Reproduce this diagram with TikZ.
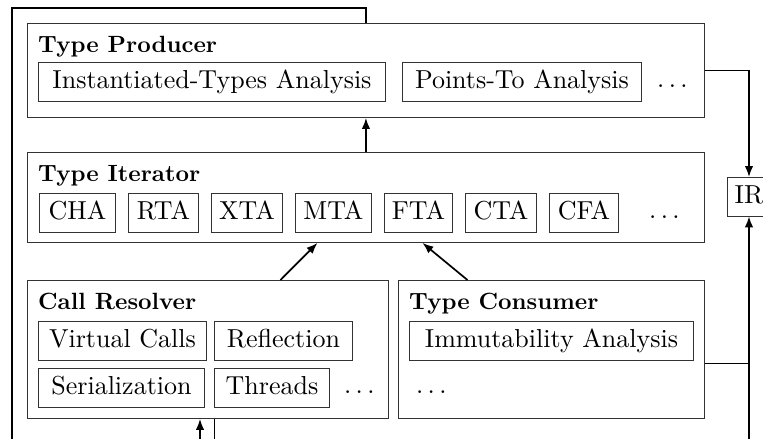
\documentclass[tikz,border=0pt]{standalone}
\usepackage{fontspec}
\setmainfont{lmroman10-regular}[Extension=.otf, BoldFont=lmroman10-bold]
\usetikzlibrary{arrows.meta}
\newcommand\itemfont{\fontsize{26}{30}\selectfont}
\newcommand\titlefont{\fontsize{23.5}{28}\selectfont\bfseries}
\tikzset{
  group/.style={draw=black!80, line width=0.9pt, inner sep=0pt, anchor=north west},
  item/.style={draw=black!80, line width=0.9pt, anchor=north west, inner sep=0pt,
    minimum height=38.5pt, text height=19pt, text depth=6pt, font=\itemfont},
  title/.style={anchor=base west, inner sep=0pt, font=\titlefont},
  more/.style={anchor=base west, inner sep=0pt, font=\itemfont},
  link/.style={line width=1.7pt},
  flow/.style={link, -{Latex[length=11pt,width=8.5pt]}},
}
\begin{document}
\begin{tikzpicture}[x=1pt,y=-1pt]
\useasboundingbox (0,0) rectangle (763,439);
\fill[white] (0,0) rectangle (763,439);
\clip (0,0) rectangle (763,439);

% Type Producer
\node[group, minimum width=677pt, minimum height=94pt] (prod) at (27,23) {};
\node[title] (prodT) at (38,52) {Type Producer};
\node[item, minimum width=347pt] (inst) at (38,62) {Instantiated-Types Analysis};
\node[item, minimum width=239pt] (pts) at (402,62) {Points-To Analysis};
\node[more] (prodM) at (657,87.75) {.\,.\,.};

% Type Iterator
\node[group, minimum width=677pt, minimum height=90pt] (iter) at (27,152) {};
\node[title] (iterT) at (38,181) {Type Iterator};
\node[item, minimum width=76pt] (cha) at (39,193) {CHA};
\node[item, minimum width=70pt] (rta) at (128,193) {RTA};
\node[item, minimum width=71pt] (xta) at (211,193) {XTA};
\node[item, minimum width=76pt] (mta) at (295,193) {MTA};
\node[item, minimum width=68pt] (fta) at (384,193) {FTA};
\node[item, minimum width=71pt] (cta) at (465,193) {CTA};
\node[item, minimum width=69pt] (cfa) at (549,193) {CFA};
\node[more] (iterM) at (649,218.75) {.\,.\,.};

% Call Resolver
\node[group, minimum width=361pt, minimum height=138pt] (res) at (27,280) {};
\node[title] (resT) at (38,309) {Call Resolver};
\node[item, minimum width=168pt] (virt) at (38,321) {Virtual Calls};
\node[item, minimum width=138pt] (refl) at (214,321) {Reflection};
\node[item, minimum width=166pt] (ser) at (38,368) {Serialization};
\node[item, minimum width=115pt] (thr) at (214,368) {Threads};
\node[more] (resM) at (344,393.75) {.\,.\,.};

% Type Consumer
\node[group, minimum width=306pt, minimum height=138pt] (cons) at (398,280) {};
\node[title] (consT) at (409,309) {Type Consumer};
\node[item, minimum width=284pt] (imm) at (409,321) {Immutability Analysis};
\node[more] (consM) at (416,393.75) {.\,.\,.};

% Intermediate representation
\node[item, anchor=north, minimum width=44pt] (ir) at (749,177) {IR};

% Connectors
\coordinate (tap) at ([yshift=-14pt]cons.east);
\coordinate (irfoot) at (749,452);
\coordinate (loopbase) at (12,452);
\coordinate (looptop) at (12,8);
\coordinate (resfeed) at (200,452);

\draw[flow] (iter.north) -- (prod.south);
\draw[flow] ([xshift=72.5pt]res.north) -- ([xshift=-48.5pt]iter.south);
\draw[flow] ([xshift=-84pt]cons.north) -- ([xshift=56.5pt]iter.south);
\draw[flow] (prod.east) -| (ir.north);
\draw[flow] (irfoot) -- (ir.south);
\draw[link] (tap) -- (tap -| ir.south);
\draw[link] ([xshift=6.5pt]res.south) |- (loopbase) -- (looptop) -| (prod.north);
\draw[flow] (resfeed) -- (resfeed |- res.south);
\end{tikzpicture}
\end{document}
